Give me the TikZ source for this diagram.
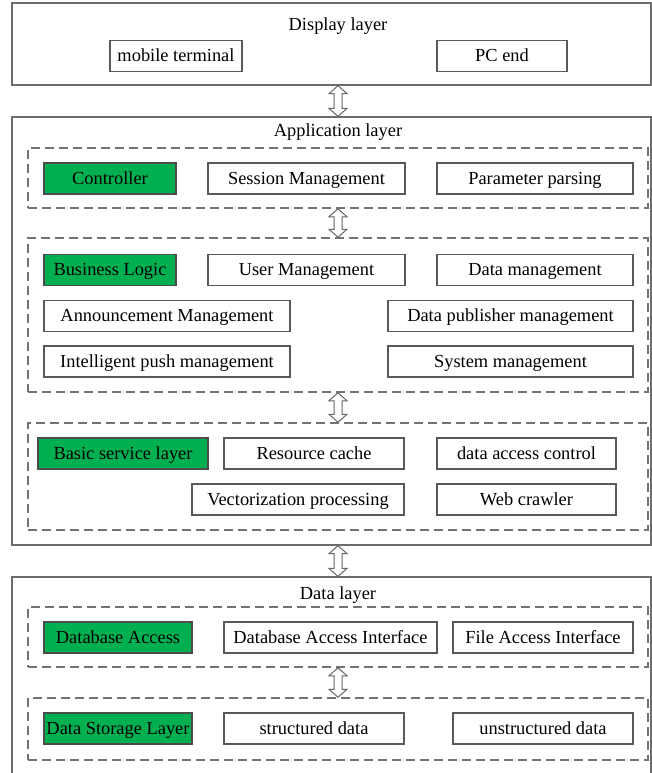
\documentclass[tikz,border=0pt]{standalone}
\usepackage{fontspec}
\setmainfont{Liberation Serif}
\usetikzlibrary{calc}

\definecolor{officegreen}{RGB}{0,176,80}

\newcommand{\bothway}[2]{%
  \draw[twoway] let \p1=(#1), \p2=(#2) in
    (\x1,\y1) -- (\x1+4.5pt,\y1-4pt) -- (\x1+2pt,\y1-4pt) -- (\x1+2pt,\y2+4pt)
    -- (\x1+4.5pt,\y2+4pt) -- (\x2,\y2) -- (\x1-4.5pt,\y2+4pt) -- (\x1-2pt,\y2+4pt)
    -- (\x1-2pt,\y1-4pt) -- (\x1-4.5pt,\y1-4pt) -- cycle;}

\begin{document}
\begin{tikzpicture}[x=0.5pt, y=-0.5pt,
    font=\fontsize{9.2}{11}\selectfont,
    every node/.style = {text height=7.2pt, text depth=1.4pt},
    layer/.style = {draw=gray!85!black, line width=0.65pt, inner sep=0pt},
    group/.style = {draw=gray!90!black, dash pattern=on 4.5pt off 2.5pt, line width=0.75pt, inner sep=0pt},
    item/.style = {draw=gray!70!black, line width=0.55pt, fill=white, minimum height=15.5pt, inner sep=0pt},
    core/.style = {item, fill=officegreen, draw=gray!60!black},
    twoway/.style = {draw=gray!80!black, fill=white, line width=0.5pt, line join=miter}]
    \useasboundingbox (0,0) rectangle (652,773);
    \coordinate (mid) at (338,0);

    \node[layer, minimum width=319.5pt, minimum height=41pt] (disp) at (331.5,44) {};
    \node (dispt) at (338,25) {Display layer};
    \node[item, minimum width=66pt] (mobile) at (176,56) {mobile terminal};
    \node[item, minimum width=65pt] (pc) at (502,56) {PC end};

    \node[layer, minimum width=319.5pt, minimum height=214pt] (app) at (331.5,331) {};
    \node (appt) at (338,131) {Application layer};

    \node[group, minimum width=310pt, minimum height=30pt] (ctrlgrp) at (338,178) {};
    \node[core, minimum width=66pt] (ctrl) at (110,178.5) {Controller};
    \node[item, minimum width=98.5pt] (session) at (306.5,178.5) {Session Management};
    \node[item, minimum width=98pt] (param) at (535,178.5) {Parameter parsing};

    \node[group, minimum width=310pt, minimum height=77pt] (bizgrp) at (338,315) {};
    \node[core, minimum width=66pt] (biz) at (110,270) {Business Logic};
    \node[item, minimum width=98.5pt] (user) at (306.5,270) {User Management};
    \node[item, minimum width=98pt] (datamgmt) at (535,270) {Data management};
    \node[item, minimum width=123pt] (announce) at (167,316) {Announcement Management};
    \node[item, minimum width=122.5pt] (publisher) at (510.5,316) {Data publisher management};
    \node[item, minimum width=123pt] (push) at (167,361.5) {Intelligent push management};
    \node[item, minimum width=122.5pt] (system) at (510.5,361.5) {System management};

    \node[group, minimum width=310pt, minimum height=53.5pt] (basicgrp) at (338,476.5) {};
    \node[core, minimum width=85pt] (basic) at (123,453.5) {Basic service layer};
    \node[item, minimum width=90pt] (cache) at (314,453.5) {Resource cache};
    \node[item, minimum width=89.5pt] (access) at (526.5,453.5) {data access control};
    \node[item, minimum width=106pt] (vector) at (298,499.5) {Vectorization processing};
    \node[item, minimum width=89.5pt] (crawler) at (526.5,499.5) {Web crawler};

    \node[layer, minimum width=319.5pt, minimum height=110pt] (data) at (331.5,687) {};
    \node (datat) at (338,594) {Data layer};

    \node[group, minimum width=310pt, minimum height=30pt] (dbgrp) at (338,637) {};
    \node[core, minimum width=74pt] (db) at (118,637.5) {Database Access};
    \node[item, minimum width=106.5pt] (dbif) at (330.5,637.5) {Database Access Interface};
    \node[item, minimum width=90pt] (fileif) at (543,637.5) {File Access Interface};

    \node[group, minimum width=310pt, minimum height=31pt] (storegrp) at (338,729) {};
    \node[core, minimum width=74pt] (store) at (118,728.5) {Data Storage Layer};
    \node[item, minimum width=90pt] (struct) at (314,728.5) {structured data};
    \node[item, minimum width=90pt] (unstruct) at (543,728.5) {unstructured data};

    \bothway{disp.south -| mid}{app.north -| mid}
    \bothway{ctrlgrp.south -| mid}{bizgrp.north -| mid}
    \bothway{bizgrp.south -| mid}{basicgrp.north -| mid}
    \bothway{app.south -| mid}{data.north -| mid}
    \bothway{dbgrp.south -| mid}{storegrp.north -| mid}
\end{tikzpicture}
\end{document}
